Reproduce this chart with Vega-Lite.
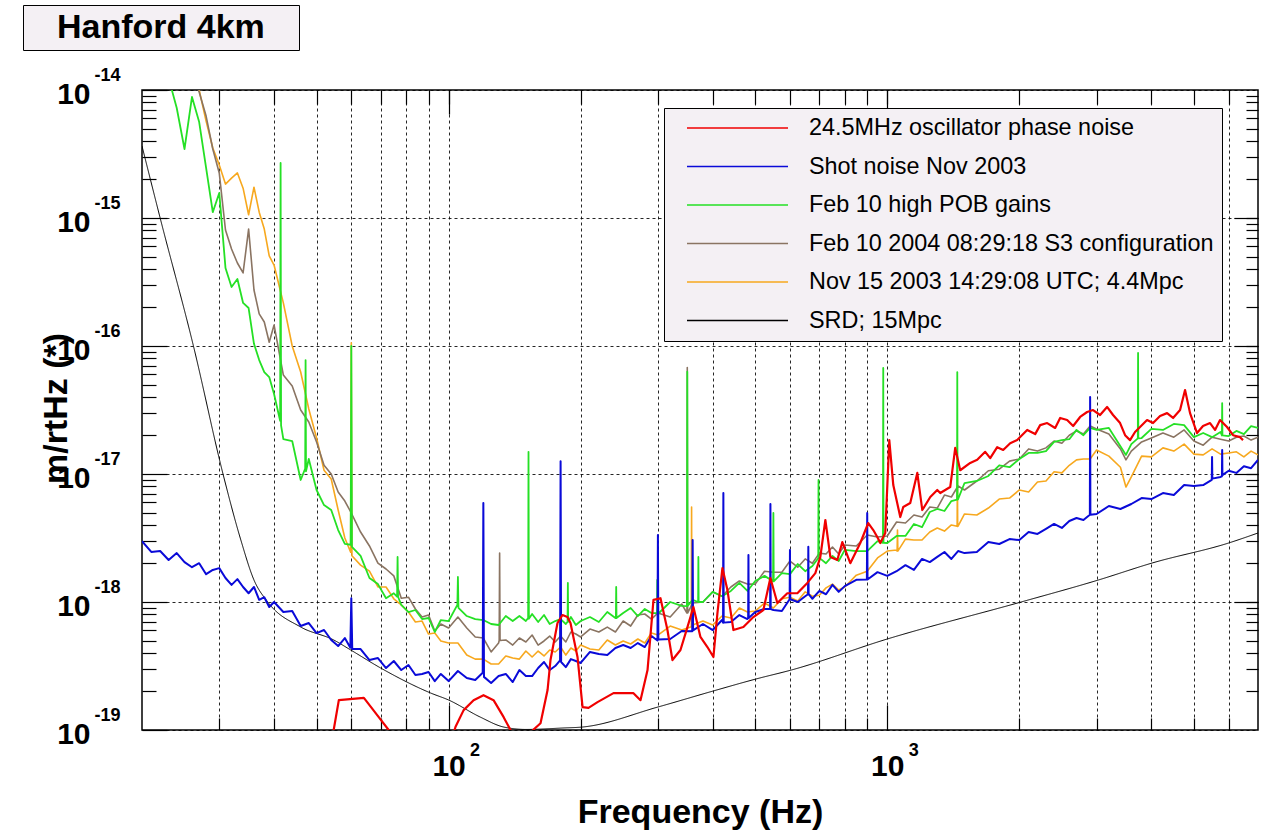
{
"$schema": "https://vega.github.io/schema/vega-lite/v6.json",
"width": 1116,
"height": 640,
"autosize": {"type": "none"},
"padding": {"left": 142, "top": 90, "right": 4, "bottom": 103},
"background": "white",
"config": {
  "view": {"stroke": "black", "strokeWidth": 1.5},
  "font": "Liberation Sans",
  "axis": {"labelFont": "Liberation Sans", "titleFont": "Liberation Sans", "labelColor": "black", "titleColor": "black", "tickColor": "black", "tickWidth": 1.2, "domain": false}
},
"datasets": {
"srd": [{"f":20,"v":3.65e-15},{"f":22,"v":1.0e-15},{"f":26.2,"v":1.0e-16},{"f":30.6,"v":1.0e-17},{"f":33.6,"v":3.05e-18},{"f":36,"v":1.485e-18},{"f":38.7,"v":1.0e-18},{"f":46,"v":6.38e-19},{"f":54.7,"v":5.05e-19},{"f":59.8,"v":4.22e-19},{"f":70,"v":3.05e-19},{"f":91,"v":1.945e-19},{"f":100,"v":1.715e-19},{"f":118,"v":1.263e-19},{"f":133.5,"v":1.055e-19},{"f":150,"v":1.01e-19},{"f":182.7,"v":1.037e-19},{"f":202,"v":1.055e-19},{"f":300,"v":1.512e-19},{"f":401,"v":2.017e-19},{"f":502,"v":2.503e-19},{"f":604,"v":2.94e-19},{"f":1000,"v":5.14e-19},{"f":2019,"v":1.0e-18},{"f":3028,"v":1.485e-18},{"f":4017,"v":2.017e-18},{"f":6000,"v":2.89e-18},{"f":7000,"v":3.46e-18}],
"orange": [{"f":20,"v":2.29e-14},{"f":21,"v":2.13e-14},{"f":22,"v":1.78e-14},{"f":23,"v":1.75e-14},{"f":24,"v":1.54e-14},{"f":25,"v":1.33e-14},{"f":26,"v":1.26e-14},{"f":27,"v":1.0e-14},{"f":28,"v":5.72e-15},{"f":29,"v":3.52e-15},{"f":30,"v":2.6e-15},{"f":31,"v":1.84e-15},{"f":32,"v":2.05e-15},{"f":33,"v":2.25e-15},{"f":34,"v":1.71e-15},{"f":35,"v":1.06e-15},{"f":36,"v":1.74e-15},{"f":37,"v":1.11e-15},{"f":38,"v":8.2e-16},{"f":39,"v":5.05e-16},{"f":40,"v":4.29e-16},{"f":42,"v":2.17e-16},{"f":44,"v":1.0e-16},{"f":46,"v":6.26e-17},{"f":48,"v":3.22e-17},{"f":50,"v":1.91e-17},{"f":52,"v":1.07e-17},{"f":54,"v":9.14e-18},{"f":56,"v":5.23e-18},{"f":58,"v":3.16e-18},{"f":59.8,"v":2.45e-18},{"f":60,"v":1.06e-16},{"f":60.2,"v":2.3e-18},{"f":63,"v":1.94e-18},{"f":66,"v":1.74e-18},{"f":69,"v":1.31e-18},{"f":72,"v":1.31e-18},{"f":75,"v":1.06e-18},{"f":78,"v":9.48e-19},{"f":81,"v":8.35e-19},{"f":84,"v":6.98e-19},{"f":87,"v":7.1e-19},{"f":90,"v":5.62e-19},{"f":93,"v":5.72e-19},{"f":96,"v":4.96e-19},{"f":100,"v":4.78e-19},{"f":105,"v":4.78e-19},{"f":110,"v":3.85e-19},{"f":115,"v":3.58e-19},{"f":120,"v":3.58e-19},{"f":125,"v":3.28e-19},{"f":130,"v":3.28e-19},{"f":135,"v":3.79e-19},{"f":140,"v":3.65e-19},{"f":145,"v":3.58e-19},{"f":150,"v":4.14e-19},{"f":155,"v":3.72e-19},{"f":160,"v":4.14e-19},{"f":165,"v":3.79e-19},{"f":170,"v":4.22e-19},{"f":175,"v":4.07e-19},{"f":180,"v":4.45e-19},{"f":185,"v":3.85e-19},{"f":190,"v":4.37e-19},{"f":195,"v":4.14e-19},{"f":200,"v":4.61e-19},{"f":210,"v":4.29e-19},{"f":220,"v":4.22e-19},{"f":230,"v":5.05e-19},{"f":240,"v":4.61e-19},{"f":250,"v":4.96e-19},{"f":260,"v":4.7e-19},{"f":270,"v":5.14e-19},{"f":280,"v":4.78e-19},{"f":290,"v":5.72e-19},{"f":300,"v":5.52e-19},{"f":320,"v":6.49e-19},{"f":340,"v":6.04e-19},{"f":357.4,"v":6.4e-19},{"f":358,"v":5.52e-18},{"f":358.6,"v":6.4e-19},{"f":360,"v":6.61e-19},{"f":380,"v":7.1e-19},{"f":400,"v":6.61e-19},{"f":420,"v":7.77e-19},{"f":440,"v":7.5e-19},{"f":460,"v":8.98e-19},{"f":480,"v":8.35e-19},{"f":500,"v":8.5e-19},{"f":525,"v":9.82e-19},{"f":550,"v":8.98e-19},{"f":575,"v":1.06e-18},{"f":600,"v":1.09e-18},{"f":625,"v":1.02e-18},{"f":650,"v":1.2e-18},{"f":675,"v":1.11e-18},{"f":700,"v":1.13e-18},{"f":725,"v":1.29e-18},{"f":750,"v":1.38e-18},{"f":775,"v":1.24e-18},{"f":800,"v":1.31e-18},{"f":850,"v":1.62e-18},{"f":900,"v":1.74e-18},{"f":950,"v":2.21e-18},{"f":1000,"v":2.5e-18},{"f":1050,"v":2.55e-18},{"f":1053,"v":2.5e-18},{"f":1055,"v":3.65e-18},{"f":1057,"v":2.5e-18},{"f":1100,"v":3.1e-18},{"f":1150,"v":3.05e-18},{"f":1200,"v":3.05e-18},{"f":1250,"v":3.52e-18},{"f":1300,"v":3.79e-18},{"f":1350,"v":3.58e-18},{"f":1400,"v":4.0e-18},{"f":1443,"v":3.9e-18},{"f":1445,"v":1.07e-17},{"f":1447,"v":3.9e-18},{"f":1450,"v":3.92e-18},{"f":1500,"v":4.87e-18},{"f":1600,"v":4.78e-18},{"f":1700,"v":5.42e-18},{"f":1800,"v":6.37e-18},{"f":1900,"v":6.49e-18},{"f":2000,"v":7.5e-18},{"f":2100,"v":7.23e-18},{"f":2200,"v":8.66e-18},{"f":2300,"v":8.82e-18},{"f":2400,"v":1.04e-17},{"f":2500,"v":1.02e-17},{"f":2600,"v":1.17e-17},{"f":2700,"v":1.29e-17},{"f":2800,"v":1.31e-17},{"f":2900,"v":1.31e-17},{"f":3000,"v":1.54e-17},{"f":3200,"v":1.38e-17},{"f":3400,"v":1.13e-17},{"f":3500,"v":7.91e-18},{"f":3600,"v":9.48e-18},{"f":3800,"v":1.38e-17},{"f":4000,"v":1.36e-17},{"f":4250,"v":1.6e-17},{"f":4500,"v":1.51e-17},{"f":4750,"v":1.71e-17},{"f":5000,"v":1.43e-17},{"f":5250,"v":1.41e-17},{"f":5500,"v":1.57e-17},{"f":5750,"v":1.43e-17},{"f":6000,"v":1.46e-17},{"f":6250,"v":1.49e-17},{"f":6500,"v":1.36e-17},{"f":6750,"v":1.51e-17},{"f":7000,"v":1.41e-17}],
"brown": [{"f":20,"v":2.33e-14},{"f":21,"v":2.41e-14},{"f":22,"v":2.02e-14},{"f":23,"v":1.81e-14},{"f":24,"v":1.71e-14},{"f":25,"v":1.41e-14},{"f":26,"v":1.26e-14},{"f":27,"v":9.65e-15},{"f":28,"v":6.26e-15},{"f":29,"v":3.46e-15},{"f":30,"v":2.25e-15},{"f":31,"v":8.06e-16},{"f":32,"v":5.72e-16},{"f":33,"v":4.45e-16},{"f":34,"v":3.72e-16},{"f":35,"v":8.2e-16},{"f":36,"v":2.74e-16},{"f":37,"v":1.78e-16},{"f":38,"v":1.54e-16},{"f":39,"v":1.07e-16},{"f":40,"v":1.46e-16},{"f":42,"v":5.93e-17},{"f":44,"v":4.87e-17},{"f":46,"v":3.16e-17},{"f":48,"v":2.55e-17},{"f":50,"v":1.78e-17},{"f":52,"v":1.17e-17},{"f":54,"v":1.0e-17},{"f":56,"v":7.23e-18},{"f":58,"v":6.15e-18},{"f":60,"v":4.96e-18},{"f":63,"v":3.52e-18},{"f":66,"v":2.74e-18},{"f":69,"v":2.01e-18},{"f":72,"v":1.81e-18},{"f":75,"v":1.6e-18},{"f":78,"v":1.07e-18},{"f":81,"v":1.09e-18},{"f":84,"v":8.82e-19},{"f":87,"v":7.63e-19},{"f":90,"v":7.91e-19},{"f":93,"v":5.93e-19},{"f":96,"v":6.73e-19},{"f":100,"v":6.26e-19},{"f":105,"v":7.63e-19},{"f":110,"v":6.26e-19},{"f":115,"v":5.33e-19},{"f":120,"v":5.23e-19},{"f":125,"v":4.07e-19},{"f":130,"v":4.78e-19},{"f":130.4,"v":5.0e-19},{"f":130.7,"v":2.41e-18},{"f":131,"v":5.0e-19},{"f":135,"v":5.05e-19},{"f":140,"v":4.61e-19},{"f":145,"v":5.23e-19},{"f":150,"v":4.87e-19},{"f":155,"v":5.52e-19},{"f":160,"v":4.61e-19},{"f":165,"v":4.96e-19},{"f":170,"v":5.42e-19},{"f":175,"v":4.87e-19},{"f":180,"v":5.42e-19},{"f":185,"v":4.87e-19},{"f":190,"v":5.83e-19},{"f":195,"v":5.62e-19},{"f":200,"v":5.33e-19},{"f":210,"v":6.15e-19},{"f":220,"v":5.83e-19},{"f":230,"v":6.37e-19},{"f":240,"v":5.83e-19},{"f":250,"v":7.1e-19},{"f":260,"v":6.49e-19},{"f":270,"v":7.91e-19},{"f":280,"v":8.06e-19},{"f":290,"v":7.36e-19},{"f":300,"v":8.2e-19},{"f":320,"v":7.63e-19},{"f":340,"v":9.65e-19},{"f":349.4,"v":8.2e-19},{"f":350,"v":6.8e-17},{"f":350.6,"v":8.2e-19},{"f":360,"v":9.82e-19},{"f":380,"v":1.0e-18},{"f":400,"v":1.2e-18},{"f":420,"v":1.11e-18},{"f":440,"v":1.31e-18},{"f":460,"v":1.46e-18},{"f":480,"v":1.38e-18},{"f":500,"v":1.38e-18},{"f":525,"v":1.74e-18},{"f":550,"v":1.71e-18},{"f":575,"v":1.71e-18},{"f":600,"v":2.09e-18},{"f":625,"v":1.87e-18},{"f":650,"v":2.17e-18},{"f":675,"v":2.01e-18},{"f":700,"v":2.41e-18},{"f":725,"v":2.37e-18},{"f":750,"v":2.69e-18},{"f":775,"v":2.37e-18},{"f":800,"v":2.79e-18},{"f":850,"v":2.74e-18},{"f":900,"v":3.34e-18},{"f":950,"v":3.22e-18},{"f":1000,"v":3.28e-18},{"f":1050,"v":4.22e-18},{"f":1100,"v":4.14e-18},{"f":1150,"v":4.78e-18},{"f":1200,"v":4.61e-18},{"f":1250,"v":5.52e-18},{"f":1300,"v":5.42e-18},{"f":1350,"v":6.85e-18},{"f":1400,"v":6.61e-18},{"f":1450,"v":8.06e-18},{"f":1500,"v":7.5e-18},{"f":1600,"v":8.82e-18},{"f":1700,"v":1.06e-17},{"f":1800,"v":1.09e-17},{"f":1900,"v":1.26e-17},{"f":2000,"v":1.31e-17},{"f":2100,"v":1.57e-17},{"f":2200,"v":1.51e-17},{"f":2300,"v":1.6e-17},{"f":2400,"v":1.81e-17},{"f":2500,"v":1.74e-17},{"f":2600,"v":2.01e-17},{"f":2700,"v":2.17e-17},{"f":2800,"v":2.05e-17},{"f":2900,"v":2.37e-17},{"f":3000,"v":2.25e-17},{"f":3200,"v":2.05e-17},{"f":3400,"v":1.57e-17},{"f":3500,"v":1.29e-17},{"f":3600,"v":1.51e-17},{"f":3800,"v":1.78e-17},{"f":4000,"v":1.91e-17},{"f":4250,"v":2.09e-17},{"f":4500,"v":1.94e-17},{"f":4750,"v":2.21e-17},{"f":5000,"v":1.81e-17},{"f":5250,"v":1.68e-17},{"f":5500,"v":1.94e-17},{"f":5750,"v":1.87e-17},{"f":6000,"v":1.81e-17},{"f":6250,"v":1.94e-17},{"f":6500,"v":1.98e-17},{"f":6750,"v":1.84e-17},{"f":7000,"v":1.94e-17}],
"green": [{"f":20,"v":1.7e-14},{"f":21,"v":1.66e-14},{"f":22,"v":1.43e-14},{"f":23,"v":1.24e-14},{"f":24,"v":7.23e-15},{"f":25,"v":3.46e-15},{"f":26,"v":8.82e-15},{"f":27,"v":5.62e-15},{"f":28,"v":2.46e-15},{"f":29,"v":1.11e-15},{"f":30,"v":1.57e-15},{"f":31,"v":4.07e-16},{"f":32,"v":2.89e-16},{"f":33,"v":3.34e-16},{"f":34,"v":2.17e-16},{"f":35,"v":1.98e-16},{"f":36,"v":1.04e-16},{"f":37,"v":7.77e-17},{"f":38,"v":6.26e-17},{"f":39,"v":5.72e-17},{"f":40,"v":4.22e-17},{"f":41.3,"v":2.6e-17},{"f":41.4,"v":2.69e-15},{"f":41.5,"v":2.4e-17},{"f":42,"v":1.87e-17},{"f":44,"v":1.81e-17},{"f":46,"v":8.98e-18},{"f":47.1,"v":1.1e-17},{"f":47.2,"v":7.77e-17},{"f":47.3,"v":1.05e-17},{"f":48,"v":1.31e-17},{"f":50,"v":7.5e-18},{"f":52,"v":5.72e-18},{"f":54,"v":5.23e-18},{"f":56,"v":3.65e-18},{"f":58,"v":2.84e-18},{"f":59.8,"v":2.8e-18},{"f":60,"v":1.0e-16},{"f":60.2,"v":2.7e-18},{"f":63,"v":2.29e-18},{"f":66,"v":1.54e-18},{"f":69,"v":1.38e-18},{"f":72,"v":1.07e-18},{"f":75,"v":1.17e-18},{"f":76.3,"v":1.1e-18},{"f":76.5,"v":2.25e-18},{"f":76.7,"v":1.1e-18},{"f":78,"v":9.48e-19},{"f":81,"v":8.35e-19},{"f":84,"v":8.66e-19},{"f":87,"v":7.36e-19},{"f":90,"v":7.5e-19},{"f":93,"v":5.83e-19},{"f":96,"v":7.23e-19},{"f":100,"v":7.1e-19},{"f":104.7,"v":9.5e-19},{"f":105,"v":1.57e-18},{"f":105.3,"v":9.0e-19},{"f":110,"v":7.77e-19},{"f":115,"v":7.36e-19},{"f":120,"v":7.23e-19},{"f":125,"v":6.73e-19},{"f":130,"v":6.61e-19},{"f":135,"v":7.77e-19},{"f":140,"v":7.1e-19},{"f":145,"v":7.77e-19},{"f":150,"v":7.1e-19},{"f":151.8,"v":7.5e-19},{"f":152.1,"v":1.49e-17},{"f":152.4,"v":7.4e-19},{"f":155,"v":8.06e-19},{"f":160,"v":6.98e-19},{"f":165,"v":7.91e-19},{"f":170,"v":6.73e-19},{"f":175,"v":7.1e-19},{"f":180,"v":7.36e-19},{"f":185,"v":6.73e-19},{"f":186.7,"v":7.0e-19},{"f":187,"v":1.41e-18},{"f":187.3,"v":7.0e-19},{"f":190,"v":7.63e-19},{"f":195,"v":6.61e-19},{"f":200,"v":7.1e-19},{"f":210,"v":7.63e-19},{"f":220,"v":6.98e-19},{"f":230,"v":8.35e-19},{"f":240,"v":7.5e-19},{"f":240.6,"v":7.5e-19},{"f":241,"v":1.31e-18},{"f":241.4,"v":7.5e-19},{"f":250,"v":8.2e-19},{"f":260,"v":8.98e-19},{"f":270,"v":7.77e-19},{"f":280,"v":8.82e-19},{"f":290,"v":8.2e-19},{"f":298.6,"v":8.2e-19},{"f":299,"v":1.49e-18},{"f":299.4,"v":8.2e-19},{"f":300,"v":8.06e-19},{"f":320,"v":1.0e-18},{"f":340,"v":9.31e-19},{"f":349.4,"v":9.3e-19},{"f":350,"v":6.3e-17},{"f":350.6,"v":9.3e-19},{"f":360,"v":1.04e-18},{"f":370.5,"v":1.0e-18},{"f":371,"v":2.25e-18},{"f":371.5,"v":1.0e-18},{"f":380,"v":1.0e-18},{"f":400,"v":1.2e-18},{"f":420,"v":1.11e-18},{"f":440,"v":1.22e-18},{"f":460,"v":1.41e-18},{"f":480,"v":1.22e-18},{"f":500,"v":1.46e-18},{"f":525,"v":1.6e-18},{"f":549,"v":1.45e-18},{"f":550,"v":4.96e-18},{"f":551,"v":1.45e-18},{"f":575,"v":1.68e-18},{"f":600,"v":1.65e-18},{"f":625,"v":1.98e-18},{"f":650,"v":1.74e-18},{"f":675,"v":1.91e-18},{"f":696,"v":2.2e-18},{"f":697,"v":8.98e-18},{"f":698,"v":2.2e-18},{"f":700,"v":2.21e-18},{"f":725,"v":2.01e-18},{"f":750,"v":2.29e-18},{"f":775,"v":2.09e-18},{"f":800,"v":2.55e-18},{"f":850,"v":2.5e-18},{"f":900,"v":2.5e-18},{"f":950,"v":2.99e-18},{"f":977.5,"v":2.9e-18},{"f":979,"v":6.73e-17},{"f":980.5,"v":2.9e-18},{"f":1000,"v":2.89e-18},{"f":1050,"v":3.28e-18},{"f":1100,"v":3.28e-18},{"f":1150,"v":4.07e-18},{"f":1200,"v":3.85e-18},{"f":1250,"v":5.05e-18},{"f":1300,"v":5.33e-18},{"f":1350,"v":5.14e-18},{"f":1400,"v":6.15e-18},{"f":1442,"v":6.3e-18},{"f":1444,"v":6.26e-17},{"f":1446,"v":6.3e-18},{"f":1450,"v":6.37e-18},{"f":1500,"v":8.5e-18},{"f":1600,"v":8.82e-18},{"f":1700,"v":9.65e-18},{"f":1800,"v":1.17e-17},{"f":1900,"v":1.13e-17},{"f":2000,"v":1.31e-17},{"f":2100,"v":1.46e-17},{"f":2200,"v":1.46e-17},{"f":2300,"v":1.51e-17},{"f":2400,"v":1.78e-17},{"f":2500,"v":1.84e-17},{"f":2600,"v":1.87e-17},{"f":2700,"v":2.21e-17},{"f":2800,"v":2.01e-17},{"f":2900,"v":2.29e-17},{"f":3000,"v":2.21e-17},{"f":3200,"v":2.29e-17},{"f":3400,"v":1.65e-17},{"f":3500,"v":1.41e-17},{"f":3600,"v":1.71e-17},{"f":3725,"v":1.9e-17},{"f":3730,"v":8.82e-17},{"f":3735,"v":1.9e-17},{"f":3800,"v":1.91e-17},{"f":4000,"v":2.25e-17},{"f":4250,"v":2.21e-17},{"f":4500,"v":2.46e-17},{"f":4750,"v":2.41e-17},{"f":5000,"v":1.94e-17},{"f":5250,"v":2.09e-17},{"f":5500,"v":1.94e-17},{"f":5750,"v":2.13e-17},{"f":5792,"v":2.0e-17},{"f":5800,"v":3.58e-17},{"f":5808,"v":2.0e-17},{"f":6000,"v":1.98e-17},{"f":6250,"v":2.17e-17},{"f":6500,"v":2.05e-17},{"f":6750,"v":2.37e-17},{"f":7000,"v":2.29e-17}],
"blue": [{"f":20,"v":2.99e-18},{"f":21,"v":2.46e-18},{"f":22,"v":2.5e-18},{"f":23,"v":2.13e-18},{"f":24,"v":2.41e-18},{"f":25,"v":2.05e-18},{"f":26,"v":1.87e-18},{"f":27,"v":2.01e-18},{"f":28,"v":1.65e-18},{"f":29,"v":1.78e-18},{"f":30,"v":1.84e-18},{"f":31,"v":1.54e-18},{"f":32,"v":1.36e-18},{"f":33,"v":1.51e-18},{"f":34,"v":1.31e-18},{"f":35,"v":1.17e-18},{"f":36,"v":1.31e-18},{"f":37,"v":1.04e-18},{"f":38,"v":1.09e-18},{"f":39,"v":9.14e-19},{"f":40,"v":1.0e-18},{"f":42,"v":8.35e-19},{"f":44,"v":8.5e-19},{"f":46,"v":6.49e-19},{"f":48,"v":6.85e-19},{"f":50,"v":5.72e-19},{"f":52,"v":6.04e-19},{"f":54,"v":5.05e-19},{"f":56,"v":4.53e-19},{"f":58,"v":5.23e-19},{"f":59.7,"v":4.4e-19},{"f":60,"v":1.07e-18},{"f":60.3,"v":4.3e-19},{"f":63,"v":4.29e-19},{"f":66,"v":3.52e-19},{"f":69,"v":3.65e-19},{"f":72,"v":3.05e-19},{"f":75,"v":3.46e-19},{"f":78,"v":2.94e-19},{"f":81,"v":3.22e-19},{"f":84,"v":2.69e-19},{"f":87,"v":2.74e-19},{"f":90,"v":2.84e-19},{"f":93,"v":2.41e-19},{"f":96,"v":2.74e-19},{"f":100,"v":2.41e-19},{"f":105,"v":2.89e-19},{"f":110,"v":2.55e-19},{"f":115,"v":2.46e-19},{"f":119.6,"v":2.8e-19},{"f":120,"v":5.93e-18},{"f":120.4,"v":2.6e-19},{"f":125,"v":2.33e-19},{"f":130,"v":2.64e-19},{"f":135,"v":2.74e-19},{"f":140,"v":2.37e-19},{"f":145,"v":2.94e-19},{"f":150,"v":2.64e-19},{"f":155,"v":2.64e-19},{"f":160,"v":3.05e-19},{"f":165,"v":3.4e-19},{"f":170,"v":2.94e-19},{"f":175,"v":3.16e-19},{"f":179.5,"v":3.5e-19},{"f":180,"v":1.26e-17},{"f":180.5,"v":3.4e-19},{"f":185,"v":3.1e-19},{"f":190,"v":3.58e-19},{"f":195,"v":3.46e-19},{"f":200,"v":3.34e-19},{"f":210,"v":4.07e-19},{"f":220,"v":3.92e-19},{"f":230,"v":3.85e-19},{"f":240,"v":4.37e-19},{"f":250,"v":4.61e-19},{"f":260,"v":4.37e-19},{"f":270,"v":4.78e-19},{"f":280,"v":4.45e-19},{"f":290,"v":5.42e-19},{"f":299.3,"v":5.0e-19},{"f":300,"v":3.34e-18},{"f":300.7,"v":5.1e-19},{"f":320,"v":5.14e-19},{"f":340,"v":5.93e-19},{"f":359.2,"v":5.9e-19},{"f":360,"v":3.05e-18},{"f":360.8,"v":6.0e-19},{"f":380,"v":6.73e-19},{"f":400,"v":6.04e-19},{"f":420,"v":7.23e-19},{"f":422.3,"v":6.9e-19},{"f":423,"v":7.1e-18},{"f":423.7,"v":6.9e-19},{"f":440,"v":6.98e-19},{"f":460,"v":7.91e-19},{"f":480,"v":7.36e-19},{"f":481.8,"v":7.5e-19},{"f":482.5,"v":2.33e-18},{"f":483.2,"v":7.5e-19},{"f":500,"v":8.35e-19},{"f":525,"v":8.82e-19},{"f":540.7,"v":8.8e-19},{"f":541.5,"v":5.83e-18},{"f":542.3,"v":8.8e-19},{"f":550,"v":8.66e-19},{"f":575,"v":8.5e-19},{"f":599,"v":1.05e-18},{"f":600,"v":2.55e-18},{"f":601,"v":1.05e-18},{"f":625,"v":1.0e-18},{"f":650,"v":1.11e-18},{"f":659.7,"v":1.15e-18},{"f":660.7,"v":2.7e-18},{"f":661.7,"v":1.15e-18},{"f":675,"v":1.06e-18},{"f":700,"v":1.22e-18},{"f":725,"v":1.15e-18},{"f":750,"v":1.36e-18},{"f":775,"v":1.2e-18},{"f":800,"v":1.33e-18},{"f":850,"v":1.49e-18},{"f":898.5,"v":1.5e-18},{"f":900,"v":4.96e-18},{"f":901.5,"v":1.5e-18},{"f":950,"v":1.71e-18},{"f":1000,"v":1.6e-18},{"f":1050,"v":1.74e-18},{"f":1100,"v":1.94e-18},{"f":1150,"v":1.78e-18},{"f":1200,"v":2.17e-18},{"f":1250,"v":2.05e-18},{"f":1300,"v":2.25e-18},{"f":1350,"v":2.46e-18},{"f":1400,"v":2.17e-18},{"f":1450,"v":2.5e-18},{"f":1500,"v":2.41e-18},{"f":1600,"v":2.46e-18},{"f":1700,"v":2.94e-18},{"f":1800,"v":2.84e-18},{"f":1900,"v":3.1e-18},{"f":2000,"v":3.05e-18},{"f":2100,"v":3.52e-18},{"f":2200,"v":3.4e-18},{"f":2300,"v":3.72e-18},{"f":2400,"v":4.07e-18},{"f":2500,"v":3.79e-18},{"f":2600,"v":4.29e-18},{"f":2700,"v":4.53e-18},{"f":2800,"v":4.37e-18},{"f":2896,"v":4.8e-18},{"f":2900,"v":4.0e-17},{"f":2904,"v":4.8e-18},{"f":3000,"v":4.87e-18},{"f":3200,"v":5.62e-18},{"f":3400,"v":5.33e-18},{"f":3600,"v":5.83e-18},{"f":3800,"v":6.49e-18},{"f":4000,"v":6.37e-18},{"f":4250,"v":7.1e-18},{"f":4500,"v":6.85e-18},{"f":4750,"v":8.2e-18},{"f":5000,"v":8.06e-18},{"f":5250,"v":8.2e-18},{"f":5492,"v":9.0e-18},{"f":5500,"v":1.36e-17},{"f":5508,"v":9.2e-18},{"f":5750,"v":9.48e-18},{"f":5792,"v":9.6e-18},{"f":5800,"v":1.54e-17},{"f":5808,"v":9.8e-18},{"f":6000,"v":1.06e-17},{"f":6250,"v":1.02e-17},{"f":6500,"v":1.15e-17},{"f":6750,"v":1.11e-17},{"f":7000,"v":1.29e-17}],
"red": [{"f":51.1,"v":5.83e-20},{"f":54.7,"v":1.0e-19},{"f":56.2,"v":1.71e-19},{"f":64.1,"v":1.78e-19},{"f":69.3,"v":1.26e-19},{"f":73.0,"v":1.0e-19},{"f":77.7,"v":5.83e-20},{"f":98.4,"v":5.83e-20},{"f":103.7,"v":1.06e-19},{"f":108.2,"v":1.43e-19},{"f":114.0,"v":1.71e-19},{"f":120.1,"v":1.87e-19},{"f":126.6,"v":1.71e-19},{"f":133.5,"v":1.26e-19},{"f":138.4,"v":1.0e-19},{"f":144.3,"v":6.98e-20},{"f":151.4,"v":9.14e-20},{"f":162.0,"v":1.13e-19},{"f":168.1,"v":2.05e-19},{"f":170.7,"v":3.52e-19},{"f":177.1,"v":6.85e-19},{"f":181.8,"v":7.91e-19},{"f":186.6,"v":7.63e-19},{"f":189.6,"v":6.85e-19},{"f":196.7,"v":3.72e-19},{"f":202.0,"v":1.51e-19},{"f":208.4,"v":1.49e-19},{"f":218.5,"v":1.65e-19},{"f":237.6,"v":1.94e-19},{"f":263.9,"v":1.94e-19},{"f":273.8,"v":1.71e-19},{"f":284.1,"v":2.94e-19},{"f":293.1,"v":1.04e-18},{"f":304.1,"v":1.07e-18},{"f":315.4,"v":6.04e-19},{"f":323.8,"v":3.52e-19},{"f":337.7,"v":4.22e-19},{"f":350.3,"v":6.37e-19},{"f":361.5,"v":9.14e-19},{"f":375.0,"v":5.33e-19},{"f":389.0,"v":4.45e-19},{"f":401.5,"v":3.72e-19},{"f":410.0,"v":8.2e-19},{"f":420.9,"v":1.84e-18},{"f":432.1,"v":1.24e-18},{"f":445.9,"v":6.04e-19},{"f":469.9,"v":6.37e-19},{"f":495.2,"v":7.63e-19},{"f":521.8,"v":8.66e-19},{"f":541.4,"v":1.54e-18},{"f":561.6,"v":9.82e-19},{"f":591.7,"v":1.17e-18},{"f":623.7,"v":1.17e-18},{"f":657.3,"v":1.41e-18},{"f":685.5,"v":1.68e-18},{"f":703.7,"v":2.25e-18},{"f":722.5,"v":4.37e-18},{"f":741.7,"v":2.25e-18},{"f":769.3,"v":2.13e-18},{"f":789.8,"v":2.94e-18},{"f":823.6,"v":2.01e-18},{"f":867.9,"v":2.89e-18},{"f":905.0,"v":4.14e-18},{"f":929.1,"v":3.65e-18},{"f":948.9,"v":3.22e-18},{"f":964.0,"v":2.89e-18},{"f":989.5,"v":3.46e-18},{"f":1010.6,"v":1.84e-17},{"f":1032,"v":8.2e-18},{"f":1070.6,"v":4.61e-18},{"f":1087.5,"v":5.52e-18},{"f":1128.1,"v":5.93e-18},{"f":1170.6,"v":1.02e-17},{"f":1201.8,"v":5.23e-18},{"f":1253.2,"v":6.61e-18},{"f":1299.9,"v":7.5e-18},{"f":1320.5,"v":7.1e-18},{"f":1391.5,"v":7.91e-18},{"f":1428.5,"v":1.6e-17},{"f":1466.4,"v":1.07e-17},{"f":1545.5,"v":1.22e-17},{"f":1603.2,"v":1.29e-17},{"f":1672,"v":1.49e-17},{"f":1716.5,"v":1.33e-17},{"f":1780.7,"v":1.62e-17},{"f":1837.4,"v":1.54e-17},{"f":1906.3,"v":1.74e-17},{"f":1977.6,"v":1.84e-17},{"f":2084.1,"v":2.21e-17},{"f":2173.4,"v":2.05e-17},{"f":2231,"v":2.41e-17},{"f":2314.7,"v":2.5e-17},{"f":2413.7,"v":2.29e-17},{"f":2477.9,"v":2.74e-17},{"f":2570.4,"v":2.64e-17},{"f":2652.8,"v":2.37e-17},{"f":2751.8,"v":2.79e-17},{"f":2854.6,"v":3.05e-17},{"f":2945.4,"v":3.16e-17},{"f":3055.4,"v":2.89e-17},{"f":3170,"v":3.34e-17},{"f":3271,"v":2.89e-17},{"f":3394,"v":2.5e-17},{"f":3484,"v":2.01e-17},{"f":3576,"v":1.84e-17},{"f":3671,"v":2.13e-17},{"f":3769,"v":2.33e-17},{"f":3910,"v":2.64e-17},{"f":4035,"v":2.5e-17},{"f":4186,"v":2.84e-17},{"f":4343,"v":2.99e-17},{"f":4482,"v":2.74e-17},{"f":4650,"v":3.16e-17},{"f":4773,"v":4.53e-17},{"f":4900,"v":2.99e-17},{"f":5083,"v":2.09e-17},{"f":5245,"v":2.37e-17},{"f":5442,"v":2.5e-17},{"f":5587,"v":2.21e-17},{"f":5735,"v":2.64e-17},{"f":5950,"v":2.33e-17},{"f":6141,"v":2.01e-17},{"f":6371,"v":1.94e-17},{"f":6471,"v":1.84e-17}]
},
"resolve": {"axis": {"x": "independent", "y": "independent"}},
"layer": [
{
  "data": {"name": "srd"},
  "mark": {"type": "line", "strokeWidth": 1, "interpolate": "monotone", "clip": true},
  "encoding": {
    "x": {"field": "f", "type": "quantitative", "scale": {"type": "log", "domain": [20, 7000], "nice": false},
      "axis": {"orient": "bottom", "values": [30,40,50,60,70,80,90,100,200,300,400,500,600,700,800,900,1000,2000,3000,4000,5000,6000], "labelExpr": "datum.value == 100 || datum.value == 1000 ? '10' : ''", "labelFontSize": 30, "labelFontWeight": "bold", "labelPadding": 21, "labelAlign": "center", "labelBaseline": "top", "labelOverlap": false, "labelFlush": false, "grid": true, "gridColor": "black", "gridDash": [3, 3], "gridWidth": 1, "gridOpacity": 0.85, "ticks": false, "title": "Frequency (Hz)", "titleFontSize": 34, "titleFontWeight": "bold", "titleY": 92, "titleBaseline": "alphabetic"}},
    "y": {"field": "v", "type": "quantitative", "scale": {"type": "log", "domain": [1e-19, 1e-14], "nice": false},
      "axis": {"orient": "left", "values": [1e-19, 1e-18, 1e-17, 1e-16, 1e-15, 1e-14], "labelExpr": "'10'", "labelFontSize": 30, "labelFontWeight": "bold", "labelPadding": 52, "labelOffset": 4, "labelAlign": "right", "labelBaseline": "middle", "labelOverlap": false, "labelFlush": false, "grid": true, "gridColor": "black", "gridDash": [3, 3], "gridWidth": 1, "gridOpacity": 0.85, "ticks": false, "title": "m/rtHz (*)", "titleFontSize": 34, "titleFontWeight": "bold", "titleX": -86, "titleY": 318, "titleAngle": -90, "titleAlign": "center", "titleBaseline": "middle"}},
    "color": {"datum": "SRD; 15Mpc", "type": "nominal",
      "scale": {"domain": ["24.5MHz oscillator phase noise", "Shot noise Nov 2003", "Feb 10 high POB gains", "Feb 10 2004 08:29:18 S3 configuration", "Nov 15 2003 14:29:08 UTC; 4.4Mpc", "SRD; 15Mpc"], "range": ["#f00000", "#0a0ad8", "#25e025", "#8a7462", "#f7a81e", "#000000"]},
      "legend": {"orient": "none", "legendX": 522, "legendY": 18, "title": null, "symbolType": "stroke", "symbolSize": 10201, "symbolStrokeWidth": 1.5, "symbolOffset": 14, "labelFontSize": 23.4, "labelFont": "Liberation Sans", "labelColor": "black", "labelOffset": 20, "labelLimit": 600, "clipHeight": 24, "rowPadding": 14.5, "padding": 8, "fillColor": "#f4f0f4", "strokeColor": "black"}},
    "strokeDash": {"datum": "Hanford 4km", "type": "nominal",
      "scale": {"domain": ["Hanford 4km"], "range": [[1, 0]]},
      "legend": {"orient": "none", "legendX": -119, "legendY": -85, "title": " ", "titleOrient": "right", "titlePadding": 29, "titleFontSize": 8, "symbolType": "square", "symbolSize": 100, "symbolOpacity": 0, "symbolStrokeColor": "transparent", "symbolFillColor": "transparent", "labelOffset": -5, "labelFontSize": 34, "labelFontWeight": "bold", "labelFont": "Liberation Sans", "labelColor": "black", "labelLimit": 400, "clipHeight": 35, "padding": 5, "fillColor": "#f4f0f4", "strokeColor": "black"}}
  }
},
{
  "data": {"name": "orange"},
  "mark": {"type": "line", "strokeWidth": 1.6, "strokeJoin": "round", "clip": true},
  "encoding": {
    "x": {"field": "f", "type": "quantitative", "axis": {"orient": "bottom", "values": [100, 1000], "labelExpr": "datum.value == 100 ? '2' : '3'", "labelFontSize": 18, "labelFontWeight": "bold", "labelPadding": 11, "labelOffset": 26, "labelAlign": "center", "labelBaseline": "top", "labelOverlap": false, "labelFlush": false, "grid": false, "ticks": false, "title": null}},
    "y": {"field": "v", "type": "quantitative", "axis": {"orient": "left", "values": [1e-19, 1e-18, 1e-17, 1e-16, 1e-15, 1e-14], "labelExpr": "'-' + format(-log(datum.value) / LN10, '.0f')", "labelFontSize": 18, "labelFontWeight": "bold", "labelPadding": 22, "labelOffset": -15, "labelAlign": "right", "labelBaseline": "middle", "labelOverlap": false, "labelFlush": false, "grid": false, "ticks": false, "title": null}},
    "color": {"datum": "Nov 15 2003 14:29:08 UTC; 4.4Mpc", "type": "nominal"}
  }
},
{
  "data": {"name": "brown"},
  "mark": {"type": "line", "strokeWidth": 1.6, "strokeJoin": "round", "clip": true},
  "encoding": {
    "x": {"field": "f", "type": "quantitative", "axis": {"orient": "bottom", "values": [100, 1000], "labels": false, "grid": false, "ticks": true, "tickSize": -25, "title": null}},
    "y": {"field": "v", "type": "quantitative", "axis": {"orient": "left", "values": [1e-19, 1e-18, 1e-17, 1e-16, 1e-15, 1e-14], "labels": false, "grid": false, "ticks": true, "tickSize": -25, "title": null}},
    "color": {"datum": "Feb 10 2004 08:29:18 S3 configuration", "type": "nominal"}
  }
},
{
  "data": {"name": "green"},
  "mark": {"type": "line", "strokeWidth": 1.8, "strokeJoin": "round", "clip": true},
  "encoding": {
    "x": {"field": "f", "type": "quantitative", "axis": {"orient": "bottom", "values": [30,40,50,60,70,80,90,200,300,400,500,600,700,800,900,2000,3000,4000,5000,6000], "labels": false, "grid": false, "ticks": true, "tickSize": -12, "title": null}},
    "y": {"field": "v", "type": "quantitative", "axis": {"orient": "left", "values": [2e-19,3e-19,4e-19,5e-19,6e-19,7e-19,8e-19,9e-19,2e-18,3e-18,4e-18,5e-18,6e-18,7e-18,8e-18,9e-18,2e-17,3e-17,4e-17,5e-17,6e-17,7e-17,8e-17,9e-17,2e-16,3e-16,4e-16,5e-16,6e-16,7e-16,8e-16,9e-16,2e-15,3e-15,4e-15,5e-15,6e-15,7e-15,8e-15,9e-15], "labels": false, "grid": false, "ticks": true, "tickSize": -14, "title": null}},
    "color": {"datum": "Feb 10 high POB gains", "type": "nominal"}
  }
},
{
  "data": {"name": "blue"},
  "mark": {"type": "line", "strokeWidth": 2, "strokeJoin": "round", "clip": true},
  "encoding": {
    "x": {"field": "f", "type": "quantitative", "axis": {"orient": "top", "values": [30,40,50,60,70,80,90,100,200,300,400,500,600,700,800,900,1000,2000,3000,4000,5000,6000], "labels": false, "grid": false, "ticks": true, "tickSize": -14, "title": null}},
    "y": {"field": "v", "type": "quantitative", "axis": {"orient": "right", "values": [2e-19,3e-19,4e-19,5e-19,6e-19,7e-19,8e-19,9e-19,1e-18,2e-18,3e-18,4e-18,5e-18,6e-18,7e-18,8e-18,9e-18,1e-17,2e-17,3e-17,4e-17,5e-17,6e-17,7e-17,8e-17,9e-17,1e-16,2e-16,3e-16,4e-16,5e-16,6e-16,7e-16,8e-16,9e-16,1e-15,2e-15,3e-15,4e-15,5e-15,6e-15,7e-15,8e-15,9e-15], "labels": false, "grid": false, "ticks": true, "tickSize": -12, "title": null}},
    "color": {"datum": "Shot noise Nov 2003", "type": "nominal"}
  }
},
{
  "data": {"name": "red"},
  "mark": {"type": "line", "strokeWidth": 2.2, "strokeJoin": "round", "clip": true},
  "encoding": {
    "x": {"field": "f", "type": "quantitative", "axis": {"orient": "top", "values": [100, 1000], "labels": false, "grid": false, "ticks": true, "tickSize": -24, "title": null}},
    "y": {"field": "v", "type": "quantitative", "axis": {"orient": "right", "values": [1e-18, 1e-17, 1e-16, 1e-15], "labels": false, "grid": false, "ticks": true, "tickSize": -24, "title": null}},
    "color": {"datum": "24.5MHz oscillator phase noise", "type": "nominal"}
  }
}
]
}
